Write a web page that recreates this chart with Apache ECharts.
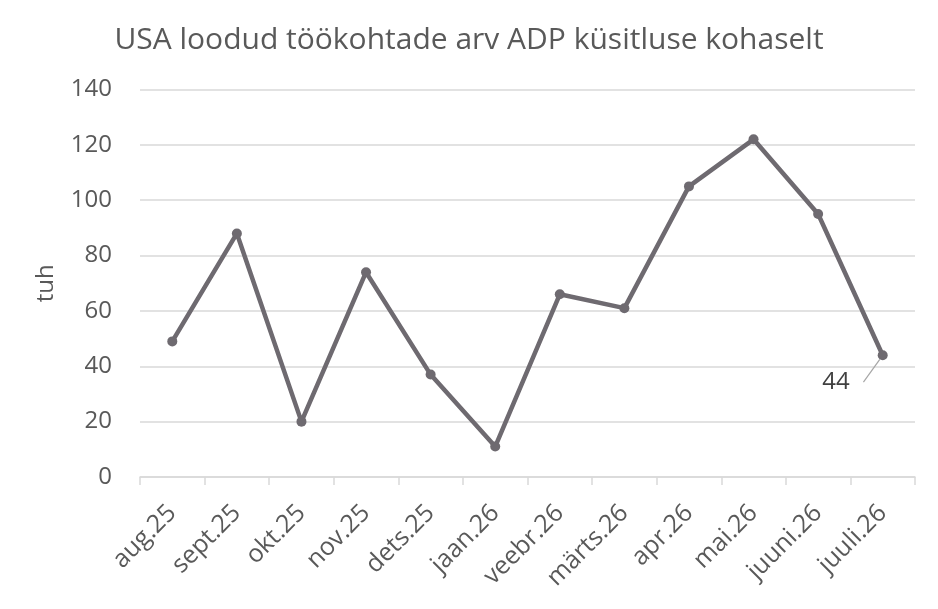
<!DOCTYPE html>
<html>
<head>
<meta charset="utf-8">
<script src="https://cdn.jsdelivr.net/npm/echarts@6/dist/echarts.min.js"></script>
<style>html,body{margin:0;padding:0;background:#fff}#c{width:938px;height:609px}</style>
</head>
<body>
<div id="c"></div>
<script>
const titleText = 'USA loodud töökohtade arv ADP küsitluse kohaselt';
const yAxisName = 'tuh';
const categories = ['aug.25','sept.25','okt.25','nov.25','dets.25','jaan.26','veebr.26','märts.26','apr.26','mai.26','juuni.26','juuli.26'];
const values = [49, 88, 20, 74, 37, 11, 66, 61, 105, 122, 95, 44];
const yMin = 0, yMax = 140, yStep = 20;

const FONT = '"Open Sans", "Noto Sans", sans-serif';
const seriesData = values.map((v, i) => i === values.length - 1
  ? { value: v, label: { show: true, position: 'left', distance: 28, offset: [0, 27], fontSize: 24, color: '#404040', fontFamily: FONT },
      labelLine: { show: true, lineStyle: { color: '#a6a6a6', width: 1.2 } } }
  : v);

const chart = echarts.init(document.getElementById('c'), null, { renderer: 'canvas' });
chart.setOption({
  backgroundColor: '#ffffff',
  animation: false,
  title: {
    text: titleText, left: 'center', top: 20,
    textStyle: { fontFamily: FONT, fontSize: 30, fontWeight: 'normal', color: '#595959' }
  },
  grid: { left: 140, right: 23, top: 89.5, bottom: 132, containLabel: false },
  xAxis: {
    type: 'category', data: categories, boundaryGap: true,
    axisLine: { lineStyle: { color: '#d9d9d9', width: 1.5 } },
    axisTick: { show: true, length: 8, lineStyle: { color: '#d9d9d9', width: 1.5 } },
    axisLabel: { rotate: 45, fontFamily: FONT, fontSize: 25, color: '#595959', margin: 32, interval: 0 }
  },
  yAxis: {
    type: 'value', min: yMin, max: yMax, interval: yStep,
    name: yAxisName, nameLocation: 'middle', nameRotate: 90, nameGap: 82,
    nameTextStyle: { fontFamily: FONT, fontSize: 24, color: '#595959' },
    axisLine: { show: false }, axisTick: { show: false },
    axisLabel: { fontFamily: FONT, fontSize: 24, color: '#595959', margin: 28 },
    splitLine: { lineStyle: { color: '#d9d9d9', width: 1.5 } }
  },
  series: [{
    type: 'line', data: seriesData,
    symbol: 'circle', symbolSize: 10,
    lineStyle: { color: '#6e6a70', width: 4.5 },
    itemStyle: { color: '#6e6a70' },
    label: { show: false }
  }]
});
</script>
</body>
</html>
